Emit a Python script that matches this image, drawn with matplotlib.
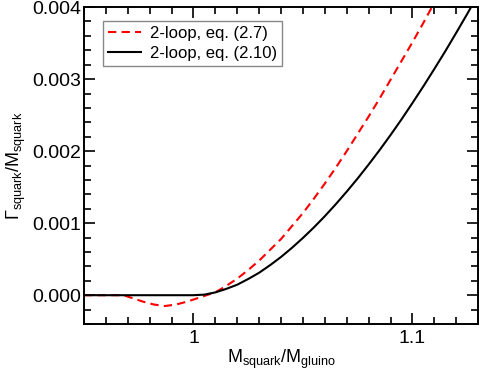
import numpy as np
import matplotlib
matplotlib.use("Agg")
import matplotlib.pyplot as plt
from matplotlib.ticker import MultipleLocator, FormatStrFormatter

plt.rcParams['font.family'] = ['Liberation Sans', 'DejaVu Sans']
plt.rcParams['mathtext.fontset'] = 'custom'
plt.rcParams['mathtext.rm'] = 'Liberation Sans'
plt.rcParams['mathtext.it'] = 'Liberation Sans'

# ===== DATA =====
x_eq27 = [0.95, 0.968, 0.972, 0.977, 0.982, 0.987, 0.992, 0.997, 1.002, 1.006,
          1.01, 1.015, 1.02, 1.025, 1.03, 1.035, 1.04, 1.045, 1.05, 1.055,
          1.06, 1.065, 1.07, 1.075, 1.08, 1.085, 1.09, 1.095, 1.10, 1.105, 1.11]
y_eq27 = [0.0, 0.0, -0.00004, -0.00009, -0.00013, -0.00015, -0.00013, -0.00009, -0.00004, 0.0,
          0.00004, 0.00013, 0.00023, 0.00035, 0.00048, 0.00063, 0.00078, 0.00096, 0.00114, 0.00134,
          0.00155, 0.00177, 0.00200, 0.00224, 0.00248, 0.00273, 0.00299, 0.00325, 0.00351, 0.00378, 0.00406]

x_eq210 = [0.95, 0.97, 0.99, 1.0, 1.005, 1.01, 1.015, 1.02, 1.025, 1.03,
           1.035, 1.04, 1.045, 1.05, 1.055, 1.06, 1.065, 1.07, 1.075, 1.08,
           1.085, 1.09, 1.095, 1.10, 1.105, 1.11, 1.115, 1.12, 1.125, 1.13]
y_eq210 = [0.0, 0.0, 0.0, 0.0, 0.000008, 0.000039, 0.000088, 0.000146, 0.000225, 0.000312,
           0.000417, 0.000531, 0.000658, 0.000795, 0.000941, 0.001097, 0.001263, 0.001438, 0.001621, 0.001814,
           0.002014, 0.002223, 0.002440, 0.002667, 0.002899, 0.003140, 0.003386, 0.003642, 0.003903, 0.004173]

# ===== PLOT =====
fig = plt.figure(figsize=(4.8, 3.72), dpi=100)
ax = fig.add_axes([0.175, 0.129, 0.821, 0.852])

ax.plot(x_eq27, y_eq27, color='#ff0000', lw=1.5, dashes=(4, 2.5),
        label='2-loop, eq. (2.7)')
ax.plot(x_eq210, y_eq210, color='black', lw=1.5, label='2-loop, eq. (2.10)')

ax.set_xlim(0.95, 1.13)
ax.set_ylim(-0.0004, 0.004)

ax.xaxis.set_major_locator(MultipleLocator(0.1))
ax.xaxis.set_minor_locator(MultipleLocator(0.01))
ax.xaxis.set_major_formatter(FormatStrFormatter('%g'))
ax.yaxis.set_major_locator(MultipleLocator(0.001))
ax.yaxis.set_minor_locator(MultipleLocator(0.0002))
ax.yaxis.set_major_formatter(FormatStrFormatter('%.3f'))

ax.tick_params(which='both', direction='in', top=True, right=True,
               labelsize=14, width=1.2)
ax.tick_params(which='major', length=8)
ax.tick_params(which='minor', length=5)
ax.tick_params(axis='y', which='major', pad=2)
ax.tick_params(axis='x', which='major', pad=4)
for s in ax.spines.values():
    s.set_linewidth(1.4)

ax.set_xlabel(r'$\mathrm{M_{squark}/M_{gluino}}$', fontsize=13, labelpad=1)
ax.set_ylabel(r'$\mathrm{\Gamma_{squark}/M_{squark}}$', fontsize=13, labelpad=3)

leg = ax.legend(loc='upper left', bbox_to_anchor=(0.048, 0.957), fontsize=12,
                fancybox=False, edgecolor='#888888', handlelength=2.0,
                borderpad=0.3, labelspacing=0.3, handletextpad=0.5,
                borderaxespad=0.0, framealpha=1)
leg.get_frame().set_linewidth(1.0)

plt.savefig("out.png", dpi=100)
